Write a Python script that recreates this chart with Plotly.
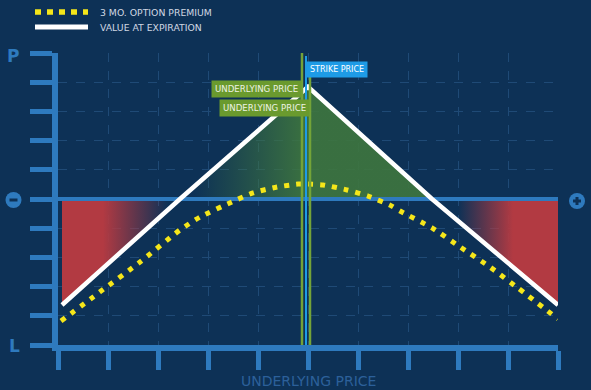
import plotly.graph_objects as go

# ---------------- data ----------------
x_ticks = list(range(0, 11))
y_ticks = list(range(-5, 6))

# value at expiration (white line)
expiry_x = [0.08, 2.44, 5.0, 7.48, 10.0]
expiry_y = [-3.63, 0.0, 3.84, 0.0, -3.63]

# 3 month option premium (yellow dotted)
premium_x = [0.06, 0.84, 1.64, 2.44, 2.84, 3.48, 3.90, 4.38, 4.80, 5.00,
             5.30, 5.78, 6.20, 6.64, 6.84, 7.48, 8.04, 8.64, 9.20, 10.0]
premium_y = [-4.18, -3.18, -2.16, -1.06, -0.62, -0.10, 0.21, 0.41, 0.51, 0.51,
             0.48, 0.31, 0.10, -0.21, -0.41, -0.99, -1.64, -2.33, -3.05, -4.11]

underlying_1 = 4.88
strike = 4.96
underlying_2 = 5.04

legend_labels = ["3 MO. OPTION PREMIUM", "VALUE AT EXPIRATION"]
x_title = "UNDERLYING PRICE"

# ---------------- styling ----------------
BG = "#0d3156"
AXIS = "#2e7abe"
GRID = "#1f4a76"
YELLOW = "#f5e61a"
GREEN_LINE = "#74a338"
BLUE_LINE = "#1e9be6"
RED = "178,58,66"
GREEN = "62,118,62"

W, H = 591, 390
L, R, T, B = 58, 33, 53, 45
PW, PH = W - L - R, H - T - B


def px(xp):
    return (xp - L) / PW


def py(yp):
    return (H - B - yp) / PH


fig = go.Figure()

# left red fill
fig.add_trace(go.Scatter(
    x=expiry_x[0:2], y=expiry_y[0:2], mode="none", fill="tozeroy",
    fillgradient=dict(type="horizontal", start=0.9, stop=2.2,
                      colorscale=[[0, f"rgba({RED},1)"], [1, f"rgba({RED},0)"]]),
    showlegend=False, hoverinfo="skip"))
# green fill
fig.add_trace(go.Scatter(
    x=expiry_x[1:4], y=expiry_y[1:4], mode="none", fill="tozeroy",
    fillgradient=dict(type="horizontal", start=2.7, stop=4.9,
                      colorscale=[[0, f"rgba({GREEN},0)"], [1, f"rgba({GREEN},0.9)"]]),
    showlegend=False, hoverinfo="skip"))
# right red fill
fig.add_trace(go.Scatter(
    x=expiry_x[3:5], y=expiry_y[3:5], mode="none", fill="tozeroy",
    fillgradient=dict(type="horizontal", start=8.0, stop=9.1,
                      colorscale=[[0, f"rgba({RED},0)"], [1, f"rgba({RED},1)"]]),
    showlegend=False, hoverinfo="skip"))

# zero line
fig.add_trace(go.Scatter(
    x=[x_ticks[0], x_ticks[-1] + 0.06], y=[0, 0], mode="lines",
    line=dict(color=AXIS, width=4), showlegend=False, hoverinfo="skip",
    cliponaxis=False))

# value at expiration
fig.add_trace(go.Scatter(
    x=expiry_x, y=expiry_y, mode="lines", name=legend_labels[1],
    line=dict(color="white", width=4.5), showlegend=False))

# option premium
fig.add_trace(go.Scatter(
    x=premium_x, y=premium_y, mode="lines", name=legend_labels[0],
    line=dict(color=YELLOW, width=5, dash="5px,7px", shape="spline", smoothing=0.6),
    showlegend=False))

# vertical markers
fig.add_trace(go.Scatter(x=[underlying_1, underlying_1], y=[-5, 5.1], mode="lines",
                         line=dict(color=GREEN_LINE, width=2.5), showlegend=False))
fig.add_trace(go.Scatter(x=[strike, strike], y=[-5, 4.9], mode="lines",
                         line=dict(color=BLUE_LINE, width=2), showlegend=False))
fig.add_trace(go.Scatter(x=[underlying_2, underlying_2], y=[-5, 4.3], mode="lines",
                         line=dict(color=GREEN_LINE, width=2.5), showlegend=False))

FONT = "DejaVu Sans"
annotations = [
    dict(x=strike, y=4.45, xref="x", yref="y", xanchor="left", yanchor="middle",
         text="STRIKE PRICE", showarrow=False, bgcolor=BLUE_LINE, borderpad=3,
         font=dict(family=FONT, size=8, color="white")),
    dict(x=underlying_1, y=3.78, xref="x", yref="y", xanchor="right", yanchor="middle",
         text="UNDERLYING PRICE", showarrow=False, bgcolor="#6a9a2e", borderpad=3,
         font=dict(family=FONT, size=8.6, color="#eef3e4")),
    dict(x=underlying_2, y=3.13, xref="x", yref="y", xanchor="right", yanchor="middle",
         text="UNDERLYING PRICE", showarrow=False, bgcolor="#6a9a2e", borderpad=3,
         font=dict(family=FONT, size=8.6, color="#eef3e4")),
    dict(x=px(98), y=py(12), xref="paper", yref="paper", xanchor="left", yanchor="middle",
         text=legend_labels[0], showarrow=False,
         font=dict(family=FONT, size=9.3, color="#d0d7e2")),
    dict(x=px(98), y=py(27), xref="paper", yref="paper", xanchor="left", yanchor="middle",
         text=legend_labels[1], showarrow=False,
         font=dict(family=FONT, size=9.3, color="#d0d7e2")),
    dict(x=px(13), y=py(56), xref="paper", yref="paper", xanchor="center", yanchor="middle",
         text="<b>P</b>", showarrow=False, font=dict(family=FONT, size=17, color=AXIS)),
    dict(x=px(14), y=py(346), xref="paper", yref="paper", xanchor="center", yanchor="middle",
         text="<b>L</b>", showarrow=False, font=dict(family=FONT, size=17, color=AXIS)),
    dict(x=0.5, y=py(381), xref="paper", yref="paper", xanchor="center", yanchor="middle",
         text=x_title, showarrow=False, font=dict(family=FONT, size=14, color="#2c609a")),
]

shapes = [
    dict(type="line", xref="paper", yref="paper", x0=px(35), x1=px(88), y0=py(12), y1=py(12),
         line=dict(color=YELLOW, width=5.5, dash="6px,6px")),
    dict(type="line", xref="paper", yref="paper", x0=px(35), x1=px(88), y0=py(27), y1=py(27),
         line=dict(color="white", width=5)),
    # minus circle
    dict(type="circle", xref="paper", yref="paper", x0=px(5.5), x1=px(21.5), y0=py(192), y1=py(208),
         fillcolor=AXIS, line=dict(width=0)),
    dict(type="rect", xref="paper", yref="paper", x0=px(9.5), x1=px(17.5), y0=py(198.5), y1=py(201.5),
         fillcolor=BG, line=dict(width=0)),
    # plus circle
    dict(type="circle", xref="paper", yref="paper", x0=px(569), x1=px(585), y0=py(193), y1=py(209),
         fillcolor=AXIS, line=dict(width=0)),
    dict(type="rect", xref="paper", yref="paper", x0=px(573), x1=px(581), y0=py(199.5), y1=py(202.5),
         fillcolor=BG, line=dict(width=0)),
    dict(type="rect", xref="paper", yref="paper", x0=px(575.5), x1=px(578.5), y0=py(197), y1=py(205),
         fillcolor=BG, line=dict(width=0)),
]

fig.update_layout(
    width=W, height=H, margin=dict(l=L, r=R, t=T, b=B),
    paper_bgcolor=BG, plot_bgcolor=BG,
    showlegend=False, annotations=annotations, shapes=shapes,
    xaxis=dict(range=[0, 10], tickvals=x_ticks, showticklabels=False,
               showgrid=True, gridcolor=GRID, griddash="dash", gridwidth=1,
               zeroline=False, showline=True, linecolor=AXIS, linewidth=6,
               ticks="outside", ticklen=19, tickwidth=5, tickcolor=AXIS, fixedrange=True),
    yaxis=dict(range=[-5, 5], tickvals=y_ticks, showticklabels=False,
               showgrid=True, gridcolor=GRID, griddash="dash", gridwidth=1,
               zeroline=False, showline=True, linecolor=AXIS, linewidth=6,
               ticks="outside", ticklen=22, tickwidth=5, tickcolor=AXIS, fixedrange=True),
)

fig.write_html(
    "out.html",
    config={"displayModeBar": False},
    post_script="document.body.style.margin='0';document.body.style.padding='0';"
                "document.body.style.overflow='hidden';"
                "document.body.style.background='" + BG + "';",
)
